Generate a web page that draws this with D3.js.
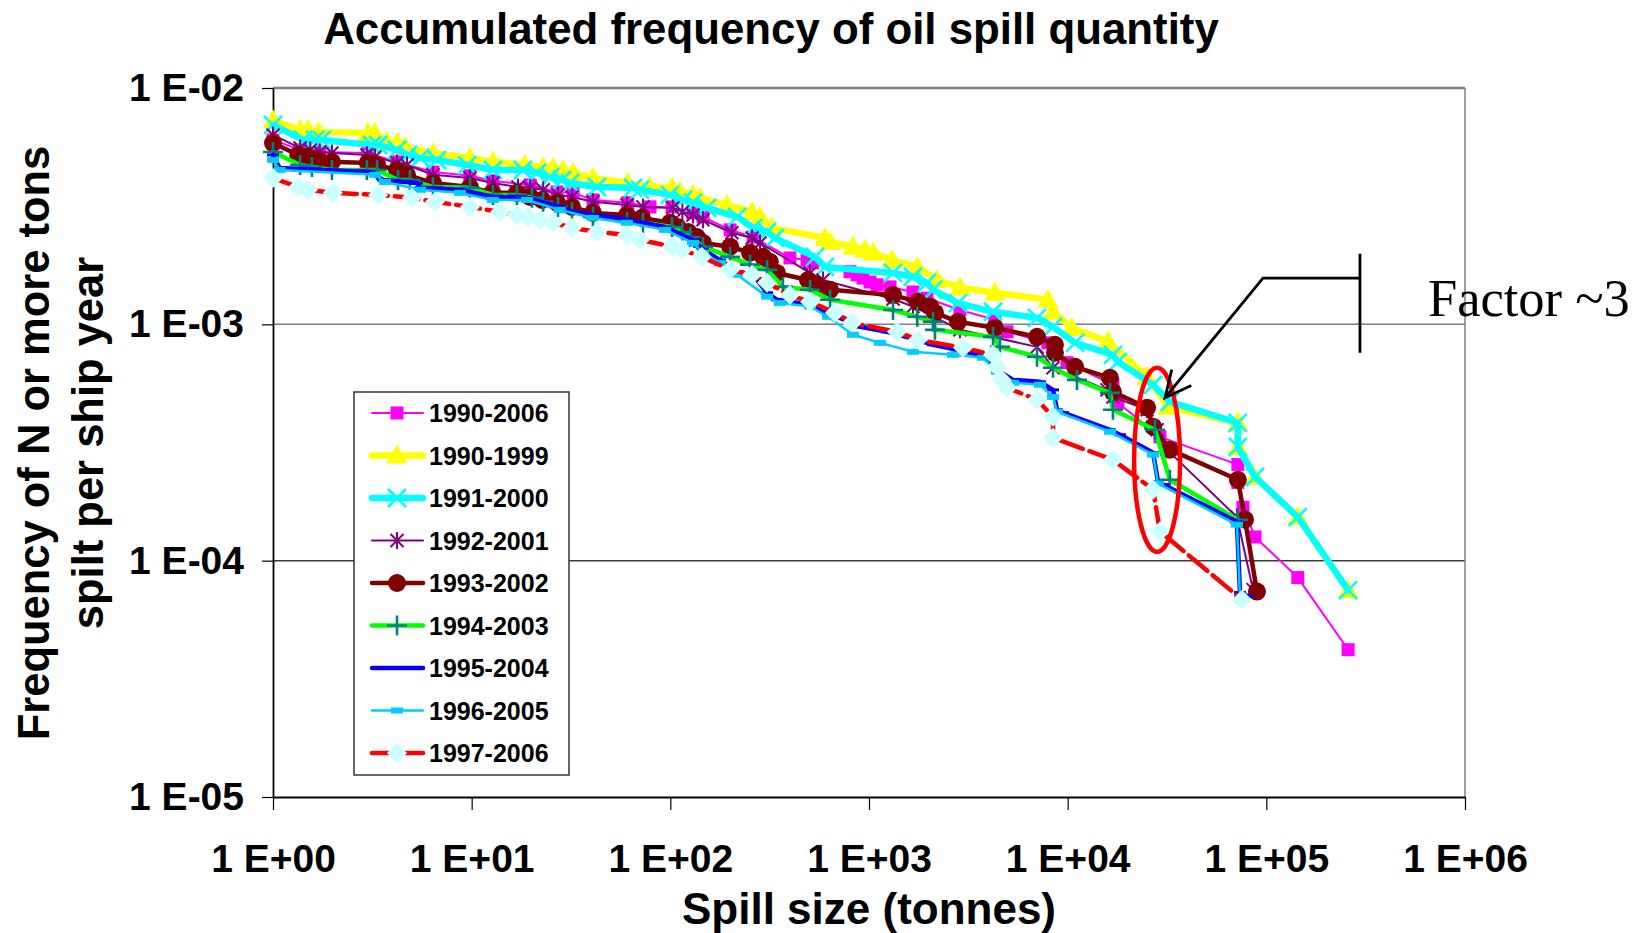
<!DOCTYPE html>
<html>
<head>
<meta charset="utf-8">
<script src="https://cdn.jsdelivr.net/npm/d3@7"></script>
<style>
  body { margin: 0; background: #ffffff; }
  svg { display: block; }
</style>
</head>
<body>
<svg id="chart" width="1641" height="933"></svg>
<script>
// Accumulated frequency (per ship year) of spills of N tonnes or more.
// Each point: [spill size in tonnes, frequency of N or more tons per ship year]

const spill1990_2006 = [
  [1, 6.03e-3], [1.37, 5.47e-3], [1.72, 5.36e-3], [3.0, 5.31e-3], [4.21, 4.87e-3], [6.39, 4.41e-3],
  [9.8, 4.25e-3], [12.8, 4.04e-3], [19.7, 3.89e-3], [26.9, 3.63e-3], [32.4, 3.60e-3], [40.8, 3.36e-3],
  [61, 3.27e-3], [79, 3.14e-3], [102, 3.14e-3], [130, 2.96e-3], [146, 2.85e-3], [200, 2.51e-3],
  [261, 2.34e-3], [400, 1.91e-3], [488, 1.87e-3], [522, 1.82e-3], [802, 1.67e-3], [870, 1.62e-3],
  [933, 1.57e-3], [1012, 1.51e-3], [1097, 1.47e-3], [1276, 1.44e-3], [1665, 1.37e-3], [1959, 1.29e-3],
  [2870, 1.15e-3], [4300, 1.045e-3], [4950, 9.3e-4], [7960, 8.35e-4], [9920, 6.88e-4], [16900, 5.55e-4],
  [17900, 4.66e-4], [29150, 3.34e-4], [71900, 2.55e-4], [71900, 2.14e-4], [76300, 1.68e-4],
  [87700, 1.26e-4], [144000, 8.48e-5], [258000, 4.2e-5]
];

const spill1990_1999 = [
  [1, 7.3e-3], [1.37, 6.64e-3], [1.5, 6.64e-3], [1.69, 6.52e-3], [3.0, 6.45e-3], [3.26, 6.45e-3],
  [3.75, 5.91e-3], [4.21, 5.85e-3], [4.62, 5.63e-3], [6.39, 5.31e-3], [9.8, 5.06e-3], [12.8, 4.87e-3],
  [18.5, 4.72e-3], [22.9, 4.63e-3], [25.7, 4.59e-3], [28.8, 4.50e-3], [32.4, 4.37e-3], [40.8, 4.16e-3],
  [61, 3.96e-3], [79, 3.81e-3], [102, 3.78e-3], [112, 3.63e-3], [130, 3.53e-3], [141, 3.43e-3],
  [193, 3.20e-3], [258, 2.99e-3], [283, 2.85e-3], [325, 2.56e-3], [600, 2.32e-3], [637, 2.23e-3],
  [830, 2.13e-3], [955, 2.07e-3], [1050, 2.01e-3], [1310, 1.87e-3], [1750, 1.75e-3], [2200, 1.54e-3],
  [2870, 1.43e-3], [4300, 1.36e-3], [7960, 1.27e-3], [8440, 1.13e-3], [10500, 9.66e-4], [16000, 8.43e-4],
  [25100, 6.0e-4], [32000, 4.48e-4], [71900, 3.83e-4], [71900, 3.03e-4], [87700, 2.26e-4],
  [144000, 1.53e-4], [258000, 7.5e-5]
];

const spill1991_2000 = [
  [1, 6.98e-3], [1.42, 6.03e-3], [1.63, 6.03e-3], [1.76, 6.03e-3], [3.15, 5.74e-3], [3.38, 5.74e-3],
  [4.21, 5.47e-3], [4.78, 5.21e-3], [5.5, 5.06e-3], [6.69, 4.96e-3], [9.5, 4.72e-3], [12.8, 4.50e-3],
  [18.1, 4.50e-3], [21.3, 4.37e-3], [24.8, 4.20e-3], [28.5, 4.08e-3], [31.3, 3.96e-3], [42.7, 3.81e-3],
  [64.9, 3.78e-3], [70.3, 3.71e-3], [99.6, 3.53e-3], [116, 3.36e-3], [130, 3.27e-3], [153, 3.11e-3],
  [217, 2.85e-3], [261, 2.56e-3], [307, 2.46e-3], [336, 2.32e-3], [535, 1.93e-3], [600, 1.75e-3],
  [1321, 1.65e-3], [1665, 1.59e-3], [1959, 1.50e-3], [2100, 1.40e-3], [2805, 1.23e-3], [4210, 1.13e-3],
  [7010, 1.065e-3], [8440, 9.76e-4], [10900, 8.35e-4], [16900, 7.43e-4], [17900, 6.94e-4],
  [26900, 5.55e-4], [32700, 4.70e-4], [71900, 3.83e-4], [71900, 3.03e-4], [87700, 2.26e-4],
  [144000, 1.53e-4], [258000, 7.5e-5]
];

const spill1992_2001 = [
  [1, 6.33e-3], [1.37, 5.57e-3], [1.54, 5.47e-3], [1.72, 5.36e-3], [1.98, 5.31e-3], [2.97, 5.21e-3],
  [3.26, 5.11e-3], [4.21, 4.82e-3], [4.73, 4.72e-3], [6.39, 4.29e-3], [9.8, 4.16e-3], [12.8, 3.96e-3],
  [17.1, 3.81e-3], [19.7, 3.78e-3], [22.9, 3.71e-3], [27.2, 3.53e-3], [32.0, 3.46e-3], [40.8, 3.30e-3],
  [60.5, 3.20e-3], [72.8, 3.14e-3], [103, 3.11e-3], [115, 2.99e-3], [130, 2.90e-3], [146, 2.77e-3],
  [204, 2.44e-3], [258, 2.32e-3], [283, 2.21e-3], [505, 1.65e-3], [587, 1.54e-3], [1321, 1.28e-3],
  [1665, 1.19e-3], [2870, 9.48e-4], [7010, 8.03e-4], [8440, 6.55e-4], [15780, 5.28e-4], [16900, 4.93e-4],
  [25100, 4.35e-4], [28200, 3.58e-4], [31600, 2.95e-4], [71100, 1.53e-4], [85700, 7.54e-5]
];

const spill1993_2002 = [
  [1, 5.85e-3], [1.34, 5.21e-3], [1.5, 5.11e-3], [1.69, 4.96e-3], [1.98, 4.87e-3], [3.0, 4.82e-3],
  [3.34, 4.72e-3], [4.21, 4.50e-3], [4.73, 4.29e-3], [6.39, 3.96e-3], [9.8, 3.81e-3], [12.7, 3.60e-3],
  [16.9, 3.60e-3], [19.7, 3.46e-3], [22.6, 3.36e-3], [26.9, 3.27e-3], [32.0, 3.14e-3], [40.8, 2.96e-3],
  [60.5, 2.90e-3], [72, 2.82e-3], [99.6, 2.69e-3], [109, 2.58e-3], [123, 2.46e-3], [136, 2.34e-3],
  [146, 2.21e-3], [200, 2.13e-3], [252, 2.01e-3], [293, 1.93e-3], [317, 1.84e-3], [344, 1.65e-3],
  [493, 1.54e-3], [547, 1.47e-3], [637, 1.40e-3], [1321, 1.33e-3], [1765, 1.245e-3], [2028, 1.19e-3],
  [2148, 1.12e-3], [2805, 1.025e-3], [4300, 9.66e-4], [7010, 8.85e-4], [8630, 8.19e-4], [8630, 7.58e-4],
  [10900, 6.61e-4], [16330, 5.94e-4], [16900, 5.18e-4], [25100, 4.44e-4], [26900, 3.69e-4],
  [32700, 2.95e-4], [71900, 2.20e-4], [78100, 1.49e-4], [89700, 7.4e-5]
];

const spill1994_2003 = [
  [1, 5.36e-3], [1.37, 4.72e-3], [1.57, 4.63e-3], [1.98, 4.50e-3], [2.97, 4.50e-3], [3.34, 4.50e-3],
  [4.26, 4.08e-3], [4.89, 4.08e-3], [6.39, 3.81e-3], [9.8, 3.78e-3], [12.8, 3.53e-3], [16.9, 3.53e-3],
  [20.1, 3.43e-3], [22.9, 3.30e-3], [27.2, 3.14e-3], [32.0, 2.99e-3], [40.8, 2.85e-3], [60.5, 2.71e-3],
  [72.8, 2.69e-3], [102, 2.58e-3], [115, 2.46e-3], [126, 2.34e-3], [146, 2.13e-3], [200, 1.93e-3],
  [252, 1.79e-3], [307, 1.70e-3], [369, 1.44e-3], [505, 1.40e-3], [637, 1.27e-3], [1321, 1.15e-3],
  [1750, 1.076e-3], [2100, 1.025e-3], [2148, 9.48e-4], [4210, 8.85e-4], [4560, 8.03e-4], [7010, 7.29e-4],
  [8440, 6.55e-4], [11140, 5.82e-4], [16330, 5.13e-4], [16900, 4.35e-4], [27500, 3.58e-4],
  [32700, 2.20e-4], [71900, 1.49e-4]
];

const spill1995_2004 = [
  [1, 5.21e-3], [1.08, 4.59e-3], [3.08, 4.41e-3], [3.58, 4.08e-3], [5.31, 3.96e-3], [5.5, 3.78e-3],
  [8.73, 3.71e-3], [12.8, 3.46e-3], [19.0, 3.43e-3], [27.8, 3.14e-3], [32.4, 2.99e-3], [40.8, 2.90e-3],
  [60.5, 2.77e-3], [94, 2.58e-3], [130, 2.28e-3], [146, 2.07e-3], [178, 1.87e-3], [217, 1.67e-3],
  [261, 1.62e-3], [307, 1.36e-3], [344, 1.27e-3], [505, 1.21e-3], [614, 1.12e-3], [714, 1.065e-3],
  [901, 9.76e-4], [1232, 9.3e-4], [1750, 8.6e-4], [2100, 8.19e-4], [2773, 7.80e-4], [3927, 7.29e-4],
  [4410, 6.42e-4], [5305, 5.82e-4], [7255, 5.71e-4], [8440, 5.28e-4], [8836, 4.35e-4], [9470, 4.23e-4],
  [16330, 3.58e-4], [18340, 3.41e-4], [26900, 2.86e-4], [28490, 2.16e-4], [30200, 2.10e-4],
  [71100, 1.46e-4], [73700, 7.33e-5], [80800, 7.05e-5]
];

const spill1996_2005 = [
  [1, 4.96e-3], [1.08, 4.50e-3], [3.26, 4.29e-3], [3.66, 4.0e-3], [5.5, 3.71e-3], [8.73, 3.60e-3],
  [12.8, 3.36e-3], [19.0, 3.36e-3], [27.8, 3.05e-3], [40.8, 2.82e-3], [60.5, 2.69e-3], [94, 2.51e-3],
  [130, 2.21e-3], [146, 2.01e-3], [178, 1.82e-3], [217, 1.62e-3], [307, 1.31e-3], [356, 1.23e-3],
  [505, 1.19e-3], [622, 1.076e-3], [830, 9.03e-4], [1136, 8.35e-4], [1665, 7.65e-4], [2647, 7.43e-4],
  [3750, 7.22e-4], [4410, 6.30e-4], [5305, 5.66e-4], [7255, 5.55e-4], [8440, 4.93e-4], [8836, 4.27e-4],
  [16330, 3.51e-4], [26900, 2.81e-4], [28490, 2.12e-4], [71100, 1.42e-4], [73700, 7.05e-5]
];

const spill1997_2006 = [
  [1, 4.16e-3], [1.34, 3.81e-3], [1.5, 3.71e-3], [2.0, 3.60e-3], [3.38, 3.53e-3], [5.0, 3.43e-3],
  [6.54, 3.30e-3], [9.8, 3.14e-3], [13.9, 2.99e-3], [16.9, 2.90e-3], [19.2, 2.85e-3], [22.1, 2.77e-3],
  [25.7, 2.69e-3], [32.0, 2.56e-3], [42.7, 2.46e-3], [60.5, 2.39e-3], [70.3, 2.28e-3], [102, 2.13e-3],
  [115, 2.07e-3], [144, 1.93e-3], [200, 1.70e-3], [258, 1.62e-3], [307, 1.50e-3], [400, 1.33e-3],
  [505, 1.245e-3], [674, 1.12e-3], [821, 1.015e-3], [1383, 9.3e-4], [1765, 8.6e-4], [2972, 7.96e-4],
  [4210, 7.43e-4], [4410, 6.61e-4], [4670, 5.82e-4], [4950, 5.39e-4], [7010, 4.80e-4], [8440, 4.06e-4],
  [8440, 3.31e-4], [16900, 2.67e-4], [26900, 2.0e-4], [29150, 1.33e-4], [75400, 6.84e-5]
];

const seriesNames = ["1990-2006", "1990-1999", "1991-2000", "1992-2001", "1993-2002",
                     "1994-2003", "1995-2004", "1996-2005", "1997-2006"];
const seriesValues = [spill1990_2006, spill1990_1999, spill1991_2000, spill1992_2001, spill1993_2002,
                      spill1994_2003, spill1995_2004, spill1996_2005, spill1997_2006];

const xTickValues = [1, 1e1, 1e2, 1e3, 1e4, 1e5, 1e6];
const xTickLabels = ["1 E+00", "1 E+01", "1 E+02", "1 E+03", "1 E+04", "1 E+05", "1 E+06"];
const yTickValues = [1e-2, 1e-3, 1e-4, 1e-5];
const yTickLabels = ["1 E-02", "1 E-03", "1 E-04", "1 E-05"];

// Annotation anchors, in data units
const highlightBox = { n0: 21600, n1: 36800, f0: 1.09e-4, f1: 6.55e-4 };
const factorBar = { n: 296000, fTop: 1.99e-3, fBottom: 7.58e-4, fArm: 1.57e-3, nElbow: 96200 };
const arrowTip = { n: 30900, f: 4.89e-4 };
const factorLabel = { n: 651000, text: "Factor ~3" };

// ---- styling for each series (kept apart from the values) ----
const seriesStyles = {
  "1990-2006": { stroke: "#FF00FF", width: 2,   marker: "square" },
  "1990-1999": { stroke: "#FFFF00", width: 6.5, marker: "triangle" },
  "1991-2000": { stroke: "#00FFFF", width: 6.5, marker: "cross" },
  "1992-2001": { stroke: "#800080", width: 2,   marker: "star" },
  "1993-2002": { stroke: "#800000", width: 4.5, marker: "circle" },
  "1994-2003": { stroke: "#00FF00", width: 4.5, marker: "plus" },
  "1995-2004": { stroke: "#0000FF", width: 4.5, marker: "dash" },
  "1996-2005": { stroke: "#00CCFF", width: 2.5, marker: "bar" },
  "1997-2006": { stroke: "#FF0000", width: 4.5, marker: "diamond", dash: "24,7" }
};

const svg = d3.select("#chart");
svg.append("rect").attr("width", 1641).attr("height", 933).attr("fill", "#ffffff");

const plot = { left: 273, right: 1465, top: 88, bottom: 797 };
const x = d3.scaleLog().domain([1, 1e6]).range([plot.left, plot.right]);
const y = d3.scaleLog().domain([1e-5, 1e-2]).range([plot.bottom, plot.top]);

const FONT = "'Liberation Sans', Arial, Helvetica, sans-serif";

// horizontal gridlines
svg.append("g").selectAll("line")
  .data([1e-3, 1e-4])
  .join("line")
  .attr("x1", plot.left).attr("x2", plot.right)
  .attr("y1", d => y(d)).attr("y2", d => y(d))
  .attr("stroke", d => d === 1e-4 ? "#3a3a3a" : "#7f7f7f")
  .attr("stroke-width", 1.5);

// frame: top and right edges
svg.append("line").attr("x1", plot.left).attr("x2", plot.right)
  .attr("y1", plot.top).attr("y2", plot.top)
  .attr("stroke", "#808080").attr("stroke-width", 2.5);
svg.append("line").attr("x1", plot.right).attr("x2", plot.right)
  .attr("y1", plot.top).attr("y2", plot.bottom)
  .attr("stroke", "#808080").attr("stroke-width", 1.5);

// axes
const xAxis = d3.axisBottom(x)
  .tickValues(xTickValues)
  .tickFormat((d, i) => xTickLabels[i])
  .tickSize(13).tickSizeOuter(0).tickPadding(34);
const yAxis = d3.axisLeft(y)
  .tickValues(yTickValues)
  .tickFormat((d, i) => yTickLabels[i])
  .tickSize(11).tickSizeOuter(0).tickPadding(18);

const gx = svg.append("g").attr("transform", `translate(0,${plot.bottom})`).call(xAxis);
const gy = svg.append("g").attr("transform", `translate(${plot.left},0)`).call(yAxis);
[gx, gy].forEach(g => {
  g.select(".domain").attr("stroke", "#000").attr("stroke-width", 1.8);
  g.selectAll(".tick line").attr("stroke", "#000").attr("stroke-width", 1.2);
  g.selectAll(".tick text")
    .attr("fill", "#000")
    .style("font-family", FONT)
    .style("font-weight", "bold")
    .style("font-size", "39px");
});

// marker drawing
function drawMarker(g, type, color) {
  switch (type) {
    case "square":
      g.append("rect").attr("x", -6.5).attr("y", -6.5).attr("width", 13).attr("height", 13)
        .attr("fill", color);
      break;
    case "triangle":
      g.append("path").attr("d", "M0,-11 L10.5,8 L-10.5,8 Z").attr("fill", color);
      break;
    case "cross":
      g.append("path").attr("d", "M-9,-9 L9,9 M-9,9 L9,-9")
        .attr("stroke", color).attr("stroke-width", 2.6).attr("fill", "none");
      break;
    case "star":
      g.append("path").attr("d", "M-6.5,-6.5 L6.5,6.5 M-6.5,6.5 L6.5,-6.5 M0,-8.5 L0,8.5")
        .attr("stroke", color).attr("stroke-width", 2).attr("fill", "none");
      break;
    case "circle":
      g.append("circle").attr("r", 9).attr("fill", color);
      break;
    case "plus":
      g.append("path").attr("d", "M-10,0 L10,0 M0,-10 L0,10")
        .attr("stroke", "#008080").attr("stroke-width", 2.6).attr("fill", "none");
      break;
    case "dash":
      g.append("path").attr("d", "M-6,0 L6,0")
        .attr("stroke", color).attr("stroke-width", 3).attr("fill", "none");
      break;
    case "bar":
      g.append("rect").attr("x", -6).attr("y", -3).attr("width", 12).attr("height", 6)
        .attr("fill", color);
      break;
    case "diamond":
      g.append("path").attr("d", "M0,-10 L10,0 L0,10 L-10,0 Z").attr("fill", "#CCFFFF");
      break;
  }
}

// series lines and markers, drawn in series order
const line = d3.line().x(d => x(d[0])).y(d => y(d[1]));
seriesNames.forEach((name, si) => {
  const st = seriesStyles[name];
  const data = seriesValues[si];
  const g = svg.append("g").attr("class", "series");
  g.append("path")
    .attr("d", line(data))
    .attr("fill", "none")
    .attr("stroke", st.stroke)
    .attr("stroke-width", st.width)
    .attr("stroke-linejoin", "round")
    .attr("stroke-linecap", "round")
    .attr("stroke-dasharray", st.dash || null);
  g.selectAll("g.pt")
    .data(data)
    .join("g")
    .attr("class", "pt")
    .attr("transform", d => `translate(${x(d[0])},${y(d[1])})`)
    .each(function () { drawMarker(d3.select(this), st.marker, st.stroke); });
});

// highlight ellipse around the 1E+04 - 1E+05 region
const ex0 = x(highlightBox.n0), ex1 = x(highlightBox.n1);
const ey0 = y(highlightBox.f1), ey1 = y(highlightBox.f0);
svg.append("ellipse")
  .attr("cx", (ex0 + ex1) / 2).attr("cy", (ey0 + ey1) / 2)
  .attr("rx", (ex1 - ex0) / 2).attr("ry", (ey1 - ey0) / 2)
  .attr("fill", "none").attr("stroke", "#FF0000").attr("stroke-width", 4.5);

// bracket, leader and arrow
const ann = svg.append("g").attr("stroke", "#000").attr("stroke-width", 2.8).attr("fill", "none");
const bx = x(factorBar.n), armY = y(factorBar.fArm), elbowX = x(factorBar.nElbow);
const tipX = x(arrowTip.n), tipY = y(arrowTip.f);
ann.append("line").attr("x1", bx).attr("x2", bx).attr("y1", y(factorBar.fTop)).attr("y2", y(factorBar.fBottom));
ann.append("polyline").attr("points", `${bx},${armY} ${elbowX},${armY} ${tipX},${tipY}`);
const ang = Math.atan2(tipY - armY, tipX - elbowX);
const headLen = 29, spread = 0.45;
ann.append("polyline").attr("points", [
  [tipX - headLen * Math.cos(ang - spread), tipY - headLen * Math.sin(ang - spread)],
  [tipX, tipY],
  [tipX - headLen * Math.cos(ang + spread), tipY - headLen * Math.sin(ang + spread)]
].map(p => p.join(",")).join(" "));

svg.append("text")
  .attr("x", x(factorLabel.n)).attr("y", 316)
  .style("font-family", "'Liberation Serif', 'Times New Roman', serif")
  .style("font-size", "52.5px")
  .attr("fill", "#000")
  .text(factorLabel.text);

// legend
const legend = svg.append("g").attr("transform", "translate(354,392)");
legend.append("rect").attr("width", 215).attr("height", 383)
  .attr("fill", "#fff").attr("stroke", "#333").attr("stroke-width", 1.5);
seriesNames.forEach((name, i) => {
  const st = seriesStyles[name];
  const row = legend.append("g").attr("transform", `translate(0,${21 + i * 42.5})`);
  row.append("line").attr("x1", 18).attr("x2", 69).attr("y1", 0).attr("y2", 0)
    .attr("stroke", st.stroke).attr("stroke-width", st.width).attr("stroke-linecap", "round");
  const m = row.append("g").attr("transform", "translate(43,0)");
  drawMarker(m, st.marker, st.stroke);
  row.append("text").attr("x", 75).attr("y", 0).attr("dy", "0.36em")
    .style("font-family", FONT).style("font-weight", "bold").style("font-size", "25px")
    .attr("fill", "#000").text(name);
});

// titles
svg.append("text")
  .attr("x", 771).attr("y", 44).attr("text-anchor", "middle")
  .style("font-family", FONT).style("font-weight", "bold").style("font-size", "43.8px")
  .attr("fill", "#000").text("Accumulated frequency of oil spill quantity");

svg.append("text")
  .attr("x", (plot.left + plot.right) / 2).attr("y", 924).attr("text-anchor", "middle")
  .style("font-family", FONT).style("font-weight", "bold").style("font-size", "44px")
  .attr("fill", "#000").text("Spill size (tonnes)");

const yTitle = ["Frequency of N or more tons", "spilt per ship year"];
yTitle.forEach((t, i) => {
  svg.append("text")
    .attr("transform", `translate(${49 + i * 54},443) rotate(-90)`)
    .attr("text-anchor", "middle")
    .style("font-family", FONT).style("font-weight", "bold").style("font-size", "43.5px")
    .attr("fill", "#000").text(t);
});
</script>
</body>
</html>
